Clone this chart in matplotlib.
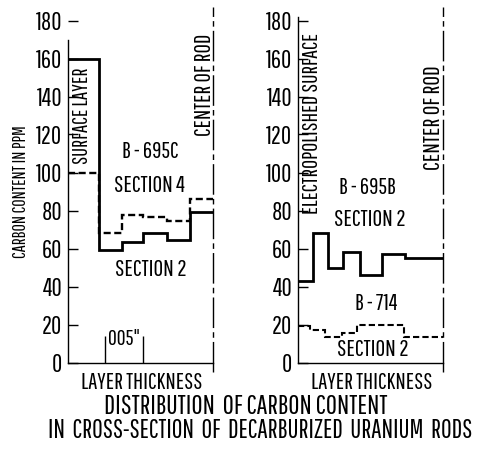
import matplotlib
matplotlib.use("Agg")
import matplotlib.pyplot as plt

plt.rcParams["font.family"] = ["Pathway Gothic One", "DejaVu Sans"]

# layer thickness in mils (0.001 in), carbon in ppm
left_edges = [0, 4.1, 7.05, 9.9, 13.0, 16.05, 19.1]
left_sec2 = [160, 59, 63.5, 68.3, 64.5, 79]
left_sec4 = [100, 68.3, 77.6, 76.7, 74.6, 86]

right_edges_b695b = [0, 2.05, 4.0, 6.0, 8.2, 11.05, 14.1, 19.1]
right_b695b = [43, 68, 50, 58, 46, 57, 55]
right_edges_b714 = [0, 1.6, 3.6, 5.8, 7.8, 13.9, 19.1]
right_b714 = [19, 17, 13.3, 15.7, 19.7, 13.3]

y_ticks = [0, 20, 40, 60, 80, 100, 120, 140, 160, 180]
scale_marks = [4.9, 9.9]  # 0.005 in marker

W, H = 481, 459
fig = plt.figure(figsize=(W / 100, H / 100), dpi=100)


def make_axes(x0_px):
    ax = fig.add_axes([x0_px / W, 1 - 362.5 / H, 145.5 / W, 342 / H])
    ax.set_xlim(0, 19.1)
    ax.set_ylim(0, 180)
    ax.spines["top"].set_visible(False)
    ax.spines["right"].set_visible(False)
    ax.spines["left"].set_linewidth(1.0)
    ax.spines["bottom"].set_linewidth(1.0)
    ax.set_xticks([])
    ax.set_yticks(y_ticks)
    ax.tick_params(axis="y", direction="in", length=7, width=1, pad=4, labelsize=18)
    # center of rod line
    ax.plot([19.1, 19.1], [-0.028, 1.039], transform=ax.get_xaxis_transform(),
            color="black", lw=1.0, linestyle=(0, (22, 3, 4, 3)), clip_on=False)
    ax.text(9.7, -10.5, "LAYER THICKNESS", ha="center", va="center", fontsize=16.5,
            clip_on=False)
    return ax


# left panel
ax1 = make_axes(68)
ax1.spines["left"].set_bounds(0, 170)
ax1.stairs(left_sec2, left_edges, baseline=None, color="black", lw=2.0)
ax1.stairs(left_sec4, left_edges, baseline=None, color="black", lw=1.7,
           linestyle=(0, (3, 1.5)))
ax1.vlines(scale_marks, 0, 14, color="black", lw=1.0)
ax1.text(7.4, 12.4, '005"', ha="center", va="center", fontsize=15.5)
ax1.text(1.85, 130, "SURFACE LAYER", rotation=90, ha="center", va="center", fontsize=15)
ax1.text(17.9, 146, "CENTER OF ROD", rotation=90, ha="center", va="center", fontsize=16.5)
ax1.text(10.8, 111, "B - 695C", ha="center", va="center", fontsize=16.5)
ax1.text(10.7, 93, "SECTION 4", ha="center", va="center", fontsize=17)
ax1.text(10.9, 48.7, "SECTION 2", ha="center", va="center", fontsize=17)
ax1.set_ylabel("CARBON CONTENT IN PPM", fontsize=13, labelpad=5)

# right panel
ax2 = make_axes(297.7)
ax2.spines["left"].set_bounds(0, 182)
ax2.stairs(right_b695b, right_edges_b695b, baseline=None, color="black", lw=2.0)
ax2.stairs(right_b714, right_edges_b714, baseline=None, color="black", lw=1.5,
           linestyle=(0, (3, 1.5)))
ax2.text(1.9, 126, "ELECTROPOLISHED SURFACE", rotation=90, ha="center", va="center",
         fontsize=16)
ax2.text(17.8, 129, "CENTER OF ROD", rotation=90, ha="center", va="center", fontsize=17)
ax2.text(9.1, 92, "B - 695B", ha="center", va="center", fontsize=16.5)
ax2.text(9.4, 75.5, "SECTION 2", ha="center", va="center", fontsize=17)
ax2.text(10.3, 30.8, "B - 714", ha="center", va="center", fontsize=16.5)
ax2.text(9.8, 6.6, "SECTION 2", ha="center", va="center", fontsize=17)

fig.text(246 / W, 1 - 406 / H, "DISTRIBUTION  OF CARBON CONTENT", ha="center",
         va="center", fontsize=19.5)
fig.text(260 / W, 1 - 430 / H, "IN  CROSS-SECTION  OF  DECARBURIZED  URANIUM  RODS",
         ha="center", va="center", fontsize=18.6)

fig.savefig("out.png", dpi=100)
